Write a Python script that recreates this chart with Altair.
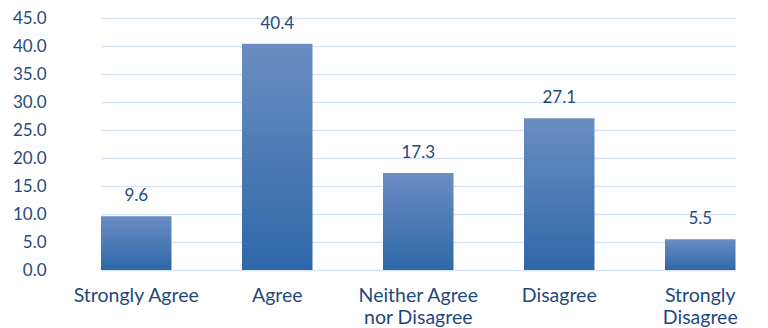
import altair as alt
import pandas as pd

categories = ["Strongly Agree", "Agree", "Neither Agree nor Disagree", "Disagree", "Strongly Disagree"]
axis_labels = ["Strongly Agree", "Agree", "Neither Agree|nor Disagree", "Disagree", "Strongly|Disagree"]
values = [9.6, 40.4, 17.3, 27.1, 5.5]
y_ticks = [0, 5, 10, 15, 20, 25, 30, 35, 40, 45]

df = pd.DataFrame({"category": categories, "value": values, "label": axis_labels})

TEXT = "#1F497D"
FONT = "Lato"

label_map = "{" + ",".join(f"'{c}':'{l}'" for c, l in zip(categories, axis_labels)) + "}"

x = alt.X(
    "category:N",
    sort=categories,
    scale=alt.Scale(range=[35, 669.5], paddingInner=0.5, paddingOuter=0),
    axis=alt.Axis(
        title=None, labelAngle=0, domain=False, ticks=False,
        labelFont=FONT, labelFontSize=19.5, labelColor=TEXT, labelPadding=16,
        labelLineHeight=22, labelBaseline="top",
        labelExpr=f"split({label_map}[datum.value], '|')",
    ),
)

y = alt.Y(
    "value:Q",
    scale=alt.Scale(domain=[0, 45], nice=False),
    axis=alt.Axis(
        title=None, values=y_ticks, format=".1f", domain=False, ticks=False,
        labelFont=FONT, labelFontSize=17, labelColor=TEXT, labelPadding=20,
        gridColor="#D6E4F4", gridWidth=1.5,
    ),
)

gradient = alt.Gradient(
    gradient="linear",
    stops=[alt.GradientStop(color="#6B8DC1", offset=0), alt.GradientStop(color="#2E68AA", offset=1)],
    x1=0, x2=0, y1=0, y2=1,
)

bars = alt.Chart(df).mark_bar(color=gradient).encode(x=x, y=y)
text = alt.Chart(df).mark_text(
    baseline="bottom", dy=-11, font=FONT, fontSize=17, color=TEXT
).encode(x=x, y=y, text=alt.Text("value:Q", format=".1f"))

chart = (bars + text).properties(
    width=694, height=252,
    autosize=alt.AutoSizeParams(type="none"),
    padding={"left": 58, "top": 10, "right": 0, "bottom": 58},
).configure_view(stroke=None)

chart.save("out.html", embed_options={"renderer": "svg", "actions": False})
